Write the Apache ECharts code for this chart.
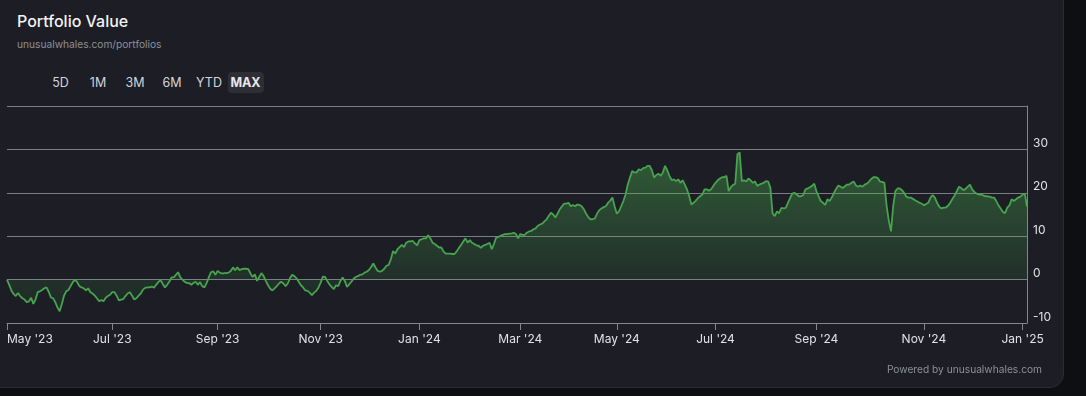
<!DOCTYPE html>
<html>
<head>
<meta charset="utf-8">
<script src="https://cdn.jsdelivr.net/npm/echarts@6/dist/echarts.min.js"></script>
<style>
  html, body { margin: 0; padding: 0; width: 1086px; height: 396px; overflow: hidden; background: #0e0f13; font-family: "Inter", "Noto Sans", sans-serif; }
  #card { position: absolute; left: -14px; top: -14px; width: 1078px; height: 402px; background: #1c1d25; border: 1px solid #2a2b33; border-radius: 14px; box-sizing: border-box; }
  #chart { position: absolute; left: 0; top: 0; width: 1086px; height: 396px; }
  .title { position: absolute; left: 17px; top: 11px; font-size: 16px; font-weight: 500; color: #f2f2f4; line-height: 20px; }
  .sub { position: absolute; left: 17px; top: 37px; font-size: 10.2px; color: #8e9098; line-height: 14px; }
  .btn { position: absolute; top: 72px; height: 21px; line-height: 21px; font-size: 12.5px; color: #d4d4d8; transform: translateX(-50%); white-space: nowrap; }
  .btn.active { font-weight: 700; color: #e8e8ec; background: #2e2f36; border-radius: 4px; padding: 0 3px; }
  .foot { position: absolute; right: 44px; top: 362px; font-size: 10.2px; color: #8e9098; line-height: 14px; }
</style>
</head>
<body>
<div id="card"></div>
<div class="title">Portfolio Value</div>
<div class="sub">unusualwhales.com/portfolios</div>
<div id="btns"></div>
<div id="chart"></div>
<div class="foot">Powered by unusualwhales.com</div>
<script>
// Range buttons
const rangeButtons = ["5D", "1M", "3M", "6M", "YTD", "MAX"];
const activeRange = "MAX";

// x-axis tick labels (first point of each two-month block)
const tickLabels = ["May '23", "Jul '23", "Sep '23", "Nov '23", "Jan '24", "Mar '24", "May '24", "Jul '24", "Sep '24", "Nov '24", "Jan '25"];

// Portfolio value (%), one array per two-month block
const valuesMayJun23 = [0, -1.2, -2.5, -3.3, -3.8, -3.1, -3.8, -4.3, -4.6, -5.2,
  -5, -4.2, -5.6, -4.6, -2.9, -2.7, -2.4, -2, -1.8, -2.8,
  -4.1, -4.3, -5.2, -6.4, -7.3, -5.6, -3.7, -2.7, -2.4, -1.5,
  -0.6, 0, -0.6, -1.5, -1.8, -2, -2.5, -2, -2.9, -3.2,
  -3.7, -4.3, -5, -4.7, -5, -4.2, -3.8, -3.5];
const valuesJulAug23 = [-2.9, -2.9, -3.7, -4.8, -4.6, -4.5, -3.8, -3.2, -2.9, -3.7,
  -4.6, -4.3, -3.7, -3.2, -2.3, -1.9, -1.8, -1.8, -1.6, -1.9,
  -1.2, -0.6, -0.1, -1, -1.8, -1.2, -0.5, 0.5, 0.5, 1.1,
  1.7, 0.5, 0, -0.5, -0.8, -0.8, -1.2, -0.8, -0.5, -1.2,
  -0.6, -1.5, -1.8, -0.8, 0.5, 1.7, 1.9, 1.1];
const valuesSepOct23 = [2.0, 1.6, 1.4, 1.5, 1.5, 1.6, 2.0, 2.8, 2.2, 2.8,
  2.2, 2.4, 2.5, 2.5, 2.4, 1.4, 0.6, 1.2, -0.3, 0.6,
  1.5, 0.8, -0.3, -1.3, -2.1, -2.5, -2.0, -1.5, -0.9, -0.5,
  -0.9, -1.5, -0.9, 0.3, 1.1, 0.8, 0.3, -0.5, -1.3, -1.8,
  -2.5, -2.6, -3.0, -3.6, -3.0, -2.6, -1.8];
const valuesNovDec23 = [-0.7, 0.7, 0.6, -0.3, -1.1, -1.7, -2.2, -1.3, -1.5, -0.3,
  0.5, -0.3, -1.7, -1.1, -0.5, 0.2, 0.6, 0.8, 1.1, 1.2,
  1.6, 1.8, 2.2, 2.9, 3.7, 2.8, 2.0, 1.8, 2.0, 2.5,
  3.2, 3.4, 4.7, 6.6, 6.0, 7.0, 7.5, 8.0, 7.5, 8.5,
  8.8, 8.8, 8.9, 8.3, 7.9];
const valuesJanFeb24 = [9.1, 9.3, 9.5, 9.5, 10.2, 9.5, 8.5, 8.2, 7.8, 7.4,
  7.4, 6.5, 6.0, 6.0, 6.0, 5.9, 5.9, 6.5, 7.3, 8.0,
  8.8, 9.5, 8.5, 9.1, 8.5, 8.2, 7.9, 7.8, 7.3, 7.8,
  8.0, 8.2, 8.5, 7.0, 8.2, 9.7, 9.8, 10.1, 10.3, 10.5,
  10.5, 10.6, 10.6, 10.8, 10.5, 9.5];
const valuesMarApr24 = [10.5, 10.3, 10.3, 10.8, 11.1, 11.2, 11.6, 11.8, 12.4, 12.7,
  12.9, 13.4, 13.9, 14.7, 15.4, 15.0, 14.3, 15.2, 16.2, 16.9,
  17.5, 17.5, 17.7, 16.9, 17.2, 16.9, 17.3, 17.2, 16.9, 16.2,
  15.2, 14.4, 13.9, 13.9, 14.1, 15.2, 16.0, 16.4, 16.7, 16.9,
  17.7, 18.2, 18.9, 16.9];
const valuesMayJun24 = [15.2, 15.7, 16.9, 18.1, 19.6, 21.9, 23.5, 25.0, 24.7, 24.7,
  25.4, 25.2, 25.7, 25.8, 26.2, 26.2, 25.2, 23.5, 24.1, 24.4,
  23.9, 24.7, 26.2, 25.2, 23.9, 22.9, 23.1, 22.7, 23.1, 22.3,
  22.9, 21.9, 20.8, 19.2, 17.3, 17.7, 18.2, 18.8, 19.2, 19.6,
  20.8, 20.8, 20.5, 20.8, 21.6];
const valuesJulAug24 = [22.3, 22.9, 23.3, 23.6, 23.6, 23.9, 20.4, 21.3, 21.8, 22.1,
  28.9, 29.3, 22.7, 22.9, 22.6, 23.3, 22.9, 22.3, 22.6, 21.6,
  21.9, 22.1, 22.3, 22.7, 22.6, 21.2, 15.3, 14.6, 15.7, 15.3,
  16.5, 16.4, 16.5, 17.7, 18.8, 19.8, 20.0, 19.6, 19.2, 19.2,
  19.5, 20.8, 21.0, 21.3, 21.6, 22.1];
const valuesSepOct24 = [20.4, 19.2, 18.1, 17.7, 17.2, 18.5, 18.1, 18.9, 20.0, 20.9,
  21.7, 21.4, 21.1, 21.5, 21.9, 21.9, 22.3, 22.6, 21.7, 21.4,
  21.7, 21.4, 21.9, 22.1, 22.6, 23.2, 23.6, 23.6, 23.4, 22.6,
  22.5, 22.3, 17.0, 13.6, 11.1, 17.0, 20.4, 21.0, 21.0, 20.6,
  20.0, 19.1, 18.9, 18.9, 18.6, 18.3, 18.0, 17.7, 17.5];
const valuesNovDec24 = [17.1, 17.4, 17.7, 18.9, 19.5, 18.9, 17.7, 16.8, 16.4, 16.6,
  16.6, 17.0, 17.7, 18.6, 19.4, 20.4, 21.4, 21.1, 20.6, 20.9,
  21.4, 21.9, 20.8, 20.2, 19.8, 19.6, 19.6, 19.4, 19.2, 19.2,
  19.1, 18.9, 18.9, 18.1, 17.1, 16.4, 15.6, 15.3, 16.6, 17.1,
  18.5, 18.1, 18.5, 18.9, 19.1];
const valuesJan25 = [19.6, 19.8, 16.8];

const blocks = [valuesMayJun23, valuesJulAug23, valuesSepOct23, valuesNovDec23, valuesJanFeb24,
  valuesMarApr24, valuesMayJun24, valuesJulAug24, valuesSepOct24, valuesNovDec24, valuesJan25];

// y-axis ticks
const yMin = -10, yMax = 40, yStep = 10;

// Build buttons
const btnCenters = [60.5, 98, 135, 172, 209, 245.5];
const btnWrap = document.getElementById('btns');
rangeButtons.forEach((b, i) => {
  const s = document.createElement('div');
  s.className = 'btn' + (b === activeRange ? ' active' : '');
  s.style.left = btnCenters[i] + 'px';
  s.textContent = b;
  btnWrap.appendChild(s);
});

// Build category table
const categories = [];
const values = [];
blocks.forEach((blk, p) => {
  blk.forEach((v, i) => {
    categories.push(tickLabels[p] + '|' + i);
    values.push(v);
  });
});
const isTick = (idx, val) => String(val).endsWith('|0');

const chart = echarts.init(document.getElementById('chart'), null, { renderer: 'canvas' });
const axisColor = '#85868d';
chart.setOption({
  animation: false,
  backgroundColor: 'transparent',
  grid: { left: 7, right: 59, top: 106, bottom: 73, containLabel: false },
  xAxis: {
    type: 'category',
    data: categories,
    boundaryGap: false,
    axisLine: { show: true, onZero: false, lineStyle: { color: axisColor, width: 1 } },
    axisTick: { show: true, interval: isTick, length: 7, lineStyle: { color: axisColor } },
    axisLabel: {
      interval: isTick,
      formatter: v => v.split('|')[0],
      color: '#e2e2e6',
      fontSize: 12,
      fontFamily: 'Inter',
      margin: 10,
      alignMinLabel: 'left'
    },
    splitLine: { show: false }
  },
  yAxis: {
    type: 'value',
    position: 'right',
    min: yMin, max: yMax, interval: yStep,
    axisLine: { show: true, lineStyle: { color: axisColor, width: 1 } },
    axisTick: { show: false },
    axisLabel: {
      color: '#e2e2e6', fontSize: 12, fontFamily: 'Inter', margin: 6,
      verticalAlign: 'bottom',
      formatter: v => (v === yMax ? '' : String(v))
    },
    splitLine: { show: true, lineStyle: { color: '#7c7d84', width: 1 } }
  },
  series: [{
    type: 'line',
    data: values,
    showSymbol: false,
    smooth: false,
    lineStyle: { color: '#48a34f', width: 1.8 },
    itemStyle: { color: '#48a34f' },
    areaStyle: {
      color: new echarts.graphic.LinearGradient(0, 0, 0, 1, [
        { offset: 0, color: 'rgba(76,175,80,0.62)' },
        { offset: 0.8, color: 'rgba(76,175,80,0.18)' },
        { offset: 1, color: 'rgba(76,175,80,0.14)' }
      ])
    }
  }]
});
</script>
</body>
</html>
